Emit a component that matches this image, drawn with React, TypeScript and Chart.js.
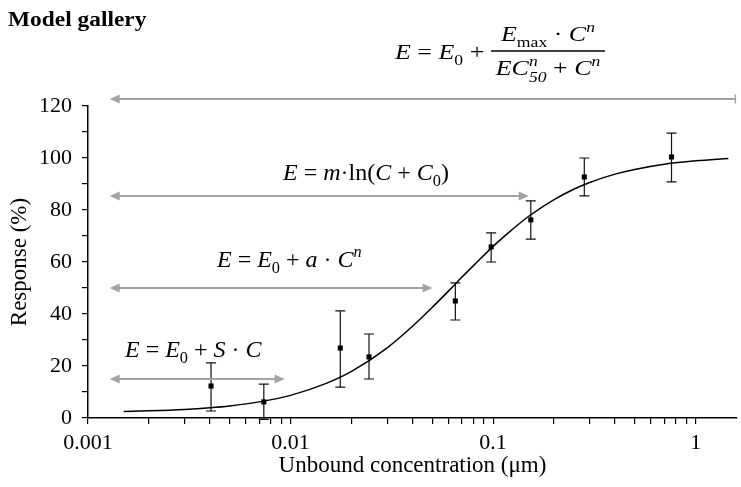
import React, { useEffect, useRef } from "react";
import { Chart, registerables } from "chart.js";

Chart.register(...registerables);

const FONT = '"Liberation Serif", "Times New Roman", serif';

const concentration = [0.00405, 0.00738, 0.0176, 0.0244, 0.0651, 0.0978, 0.1535, 0.282, 0.76];
const response = [12.3, 6.2, 26.9, 23.5, 45.0, 65.8, 76.2, 92.7, 100.4];
const errorLow = [2.7, -0.5, 11.9, 15.0, 37.7, 60.0, 68.8, 85.4, 90.8];
const errorHigh = [21.2, 13.0, 41.2, 32.3, 52.0, 71.2, 83.5, 100.0, 109.6];

// Fitted Emax curve
const fitConcentration = [0.0015, 0.002, 0.003, 0.004, 0.005, 0.007, 0.01, 0.015, 0.02, 0.03, 0.04, 0.05, 0.06, 0.07, 0.08, 0.1, 0.12, 0.15, 0.2, 0.25, 0.3, 0.4, 0.5, 0.7, 1.0, 1.45];
const fitResponse = [2.5, 2.75, 3.3, 3.95, 4.65, 6.2, 8.7, 13.3, 17.9, 27.0, 35.3, 42.5, 48.7, 54.1, 58.6, 66.0, 71.5, 77.6, 84.0, 88.0, 90.6, 93.8, 95.6, 97.6, 98.9, 99.8];

// Axis ticks
const xTickValues = [
  0.001, 0.002, 0.003, 0.004, 0.005, 0.006, 0.007, 0.008, 0.009,
  0.01, 0.02, 0.03, 0.04, 0.05, 0.06, 0.07, 0.08, 0.09,
  0.1, 0.2, 0.3, 0.4, 0.5, 0.6, 0.7, 0.8, 0.9,
  1,
];
const xLabelValues = [0.001, 0.01, 0.1, 1];
const xLabels = ["0.001", "0.01", "0.1", "1"];
const yTickValues = [0, 10, 20, 30, 40, 50, 60, 70, 80, 90, 100, 110, 120];
const yLabelValues = [0, 20, 40, 60, 80, 100, 120];
const yLabels = ["0", "20", "40", "60", "80", "100", "120"];

// Model-range arrows
const arrowFrom = [0.00128, 0.00128, 0.00128, 0.00128];
const arrowTo = [1.57, 0.15, 0.0502, 0.00935];
const arrowLevel = [122.7, 85.4, 50, 15];
const arrowRightEnd = ["bar", "head", "head", "head"];

type Seg = { t: string; it?: boolean; sub?: boolean; sup?: boolean; under?: string };

function segWidth(ctx: CanvasRenderingContext2D, s: Seg, size: number) {
  const small = size * 0.68;
  if (s.sub || s.sup) {
    ctx.font = `${s.it ? "italic " : ""}${small}px ${FONT}`;
    let w = ctx.measureText(s.t).width;
    if (s.under) w = Math.max(w, ctx.measureText(s.under).width);
    return w;
  }
  ctx.font = `${s.it ? "italic " : ""}${size}px ${FONT}`;
  return ctx.measureText(s.t).width;
}

function richWidth(ctx: CanvasRenderingContext2D, segs: Seg[], size: number, sx = 1) {
  return segs.reduce((a, s) => a + segWidth(ctx, s, size), 0) * sx;
}

function drawRich(ctx: CanvasRenderingContext2D, x: number, y: number, segs: Seg[], size: number, sx = 1) {
  const small = size * 0.68;
  ctx.save();
  ctx.translate(x, y);
  ctx.scale(sx, 1);
  ctx.textBaseline = "alphabetic";
  ctx.textAlign = "left";
  let cx = 0;
  for (const s of segs) {
    const w = segWidth(ctx, s, size);
    if (s.sub || s.sup) {
      ctx.font = `${s.it ? "italic " : ""}${small}px ${FONT}`;
      if (s.sup) ctx.fillText(s.t, cx, -size * 0.4);
      else ctx.fillText(s.t, cx, size * 0.25);
      if (s.under) ctx.fillText(s.under, cx, size * 0.32);
    } else {
      ctx.font = `${s.it ? "italic " : ""}${size}px ${FONT}`;
      ctx.fillText(s.t, cx, 0);
    }
    cx += w;
  }
  ctx.restore();
}

const formulaEmaxLead: Seg[] = [
  { t: "E", it: true }, { t: " = " }, { t: "E", it: true }, { t: "0", sub: true }, { t: " +" },
];
const formulaEmaxNum: Seg[] = [
  { t: "E", it: true }, { t: "max", sub: true }, { t: " · " }, { t: "C", it: true }, { t: "n", it: true, sup: true },
];
const formulaEmaxDen: Seg[] = [
  { t: "EC", it: true }, { t: "n", it: true, sup: true, under: "50" }, { t: " + " }, { t: "C", it: true }, { t: "n", it: true, sup: true },
];
const formulaLog: Seg[] = [
  { t: "E", it: true }, { t: " = " }, { t: "m", it: true }, { t: "·ln(" }, { t: "C", it: true }, { t: " + " },
  { t: "C", it: true }, { t: "0", sub: true }, { t: ")" },
];
const formulaPower: Seg[] = [
  { t: "E", it: true }, { t: " = " }, { t: "E", it: true }, { t: "0", sub: true }, { t: " + " },
  { t: "a", it: true }, { t: " · " }, { t: "C", it: true }, { t: "n", it: true, sup: true },
];
const formulaLinear: Seg[] = [
  { t: "E", it: true }, { t: " = " }, { t: "E", it: true }, { t: "0", sub: true }, { t: " + " },
  { t: "S", it: true }, { t: " · " }, { t: "C", it: true },
];

export default function App() {
  const ref = useRef<HTMLCanvasElement>(null);

  useEffect(() => {
    const canvas = ref.current!;

    const annotations = {
      id: "annotations",
      beforeDatasetsDraw(chart: any) {
        const ctx: CanvasRenderingContext2D = chart.ctx;
        const xs = chart.scales.x;
        const ys = chart.scales.y;
        ctx.save();
        ctx.strokeStyle = "#111";
        ctx.lineWidth = 1.2;
        for (let i = 0; i < concentration.length; i++) {
          const px = xs.getPixelForValue(concentration[i]);
          const top = ys.getPixelForValue(errorHigh[i]);
          const bot = ys.getPixelForValue(errorLow[i]);
          ctx.beginPath();
          ctx.moveTo(px, top);
          ctx.lineTo(px, bot);
          ctx.moveTo(px - 5, top);
          ctx.lineTo(px + 5, top);
          ctx.moveTo(px - 5, bot);
          ctx.lineTo(px + 5, bot);
          ctx.stroke();
        }
        ctx.restore();
      },
      afterDraw(chart: any) {
        const ctx: CanvasRenderingContext2D = chart.ctx;
        const xs = chart.scales.x;
        const ys = chart.scales.y;
        ctx.save();
        // arrows
        const gray = "#a3a3a3";
        const hl = 10;
        const hw = 4.5;
        ctx.strokeStyle = gray;
        ctx.fillStyle = gray;
        ctx.lineWidth = 2;
        for (let i = 0; i < arrowLevel.length; i++) {
          const y = ys.getPixelForValue(arrowLevel[i]);
          const x1 = xs.getPixelForValue(arrowFrom[i]);
          const x2 = xs.getPixelForValue(arrowTo[i]);
          const head = arrowRightEnd[i] === "head";
          ctx.beginPath();
          ctx.moveTo(x1 + hl - 1, y);
          ctx.lineTo(head ? x2 - hl + 1 : x2, y);
          ctx.stroke();
          ctx.beginPath();
          ctx.moveTo(x1, y);
          ctx.lineTo(x1 + hl, y - hw);
          ctx.lineTo(x1 + hl, y + hw);
          ctx.closePath();
          ctx.fill();
          if (head) {
            ctx.beginPath();
            ctx.moveTo(x2, y);
            ctx.lineTo(x2 - hl, y - hw);
            ctx.lineTo(x2 - hl, y + hw);
            ctx.closePath();
            ctx.fill();
          } else {
            ctx.lineWidth = 1.5;
            ctx.beginPath();
            ctx.moveTo(x2, y - 4.5);
            ctx.lineTo(x2, y + 4.5);
            ctx.stroke();
            ctx.lineWidth = 2;
          }
        }

        // texts
        ctx.fillStyle = "#000";
        ctx.save();
        ctx.translate(8, 26);
        ctx.scale(1.17, 1);
        ctx.font = `bold 20px ${FONT}`;
        ctx.textAlign = "left";
        ctx.textBaseline = "alphabetic";
        ctx.fillText("Model gallery", 0, 0);
        ctx.restore();

        const topSize = 22;
        const topSx = 1.18;
        drawRich(ctx, 395, 59, formulaEmaxLead, topSize, topSx);
        const fracCenter = 548;
        const nw = richWidth(ctx, formulaEmaxNum, topSize, topSx);
        drawRich(ctx, fracCenter - nw / 2, 41, formulaEmaxNum, topSize, topSx);
        const dw = richWidth(ctx, formulaEmaxDen, topSize, topSx);
        drawRich(ctx, fracCenter - dw / 2, 75, formulaEmaxDen, topSize, topSx);
        ctx.strokeStyle = "#000";
        ctx.lineWidth = 1.3;
        ctx.beginPath();
        ctx.moveTo(491, 51);
        ctx.lineTo(605, 51);
        ctx.stroke();

        const size = 24;
        drawRich(ctx, 283, 180, formulaLog, size);
        drawRich(ctx, 217, 267, formulaPower, size);
        drawRich(ctx, 125, 357, formulaLinear, size);
        ctx.restore();
      },
    };

    const chart = new Chart(canvas, {
      type: "scatter",
      data: {
        datasets: [
          {
            type: "line",
            label: "Emax fit",
            data: fitConcentration.map((x, i) => ({ x, y: fitResponse[i] })),
            borderColor: "#000",
            borderWidth: 1.5,
            pointRadius: 0,
            cubicInterpolationMode: "monotone",
            fill: false,
          } as any,
          {
            label: "Observed",
            data: concentration.map((x, i) => ({ x, y: response[i] })),
            pointStyle: "rect",
            pointRadius: 3.6,
            backgroundColor: "#000",
            borderColor: "#000",
            borderWidth: 0,
            showLine: false,
          },
        ],
      },
      options: {
        animation: false,
        responsive: true,
        maintainAspectRatio: false,
        layout: { padding: { top: 106, right: 0, bottom: 0, left: 0 } },
        plugins: {
          legend: { display: false },
          tooltip: { enabled: false },
        },
        scales: {
          x: {
            type: "logarithmic",
            min: 0.001,
            max: 1.6,
            afterBuildTicks: (s: any) => {
              s.ticks = xTickValues.map((v) => ({ value: v }));
            },
            afterFit: (s: any) => {
              s.height = 69;
            },
            ticks: {
              autoSkip: false,
              maxRotation: 0,
              minRotation: 0,
              padding: 6,
              color: "#000",
              font: { family: FONT, size: 22 },
              callback: (v: any) => {
                const i = xLabelValues.indexOf(Number(v));
                return i >= 0 ? xLabels[i] : "";
              },
            },
            grid: {
              drawOnChartArea: false,
              drawTicks: true,
              tickLength: 6,
              color: "#000",
              lineWidth: 1.2,
            },
            border: { color: "#000", width: 1.5 },
            title: {
              display: true,
              text: "Unbound concentration (μm)",
              color: "#000",
              font: { family: FONT, size: 23 },
              padding: { top: 0, bottom: 7 },
            },
          },
          y: {
            type: "linear",
            min: 0,
            max: 120,
            afterBuildTicks: (s: any) => {
              s.ticks = yTickValues.map((v) => ({ value: v }));
            },
            afterFit: (s: any) => {
              s.width = 88;
            },
            ticks: {
              autoSkip: false,
              padding: 10,
              color: "#000",
              font: { family: FONT, size: 22 },
              callback: (v: any) => {
                const i = yLabelValues.indexOf(Number(v));
                return i >= 0 ? yLabels[i] : "";
              },
            },
            grid: {
              drawOnChartArea: false,
              drawTicks: true,
              tickLength: 6,
              color: "#000",
              lineWidth: 1.2,
            },
            border: { color: "#000", width: 1.5 },
            title: {
              display: true,
              text: "Response (%)",
              color: "#000",
              font: { family: FONT, size: 23 },
              padding: { top: 6, bottom: 0 },
            },
          },
        },
      },
      plugins: [annotations],
    } as any);

    return () => chart.destroy();
  }, []);

  return (
    <div style={{ position: "fixed", left: 0, top: 0, width: 741, height: 487, background: "#fff" }}>
      <canvas ref={ref} />
    </div>
  );
}
